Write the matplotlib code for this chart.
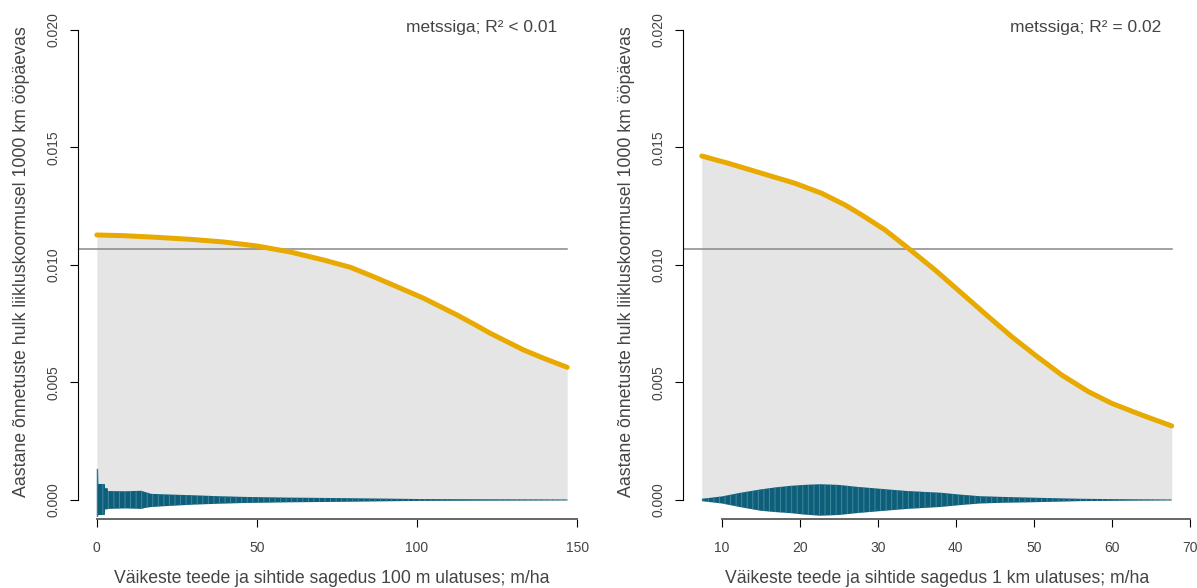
import numpy as np
import matplotlib.pyplot as plt

plt.rcParams['font.family'] = ['Liberation Sans', 'DejaVu Sans']
plt.rcParams['hatch.linewidth'] = 0.7

# left panel: 100 m radius
x1 = [0, 8.3, 18.75, 29.2, 39.6, 50, 60.4, 70.8, 79.2, 86.4, 93.7, 102.1, 107.3,
      112.5, 117.7, 122.9, 128.1, 133.3, 139.6, 146.9]
y1 = [0.011277, 0.011248, 0.011177, 0.011092, 0.010979, 0.010809, 0.010553, 0.010213,
      0.009901, 0.009504, 0.009078, 0.008582, 0.008227, 0.007872, 0.007489, 0.007092,
      0.006738, 0.006383, 0.006028, 0.005645]
b1_x = [0, 0.4, 0.5, 2.5, 2.6, 3.4, 3.5, 9, 14, 15, 17, 23, 30, 38, 46, 60, 76, 88, 101, 120, 147]
b1_hi = [0.00132, 0.00132, 0.00068, 0.00068, 0.0005, 0.0005, 0.00038, 0.00037, 0.00039, 0.00034,
         0.00026, 0.00023, 0.0002, 0.00016, 0.00013, 0.0001, 0.00008, 0.00006, 0.00004, 0.00003, 0.00002]
b1_lo = [-0.00072, -0.00072, -0.00064, -0.00064, -0.0004, -0.0004, -0.00038, -0.00036, -0.00038, -0.00034,
         -0.0003, -0.00025, -0.0002, -0.00016, -0.00013, -0.0001, -0.00008, -0.00006, -0.00004,
         -0.00003, -0.00002]

# right panel: 1 km radius
x2 = [7.43, 10.85, 15.13, 19.4, 22.82, 25.81, 27.95, 30.94, 33.93, 37.35, 40.77, 44.19,
      47.18, 50.17, 53.59, 57.01, 60.0, 63.85, 67.7]
y2 = [0.014638, 0.014326, 0.013901, 0.013475, 0.013050, 0.012553, 0.012128, 0.011489,
      0.010709, 0.009787, 0.008794, 0.007801, 0.006950, 0.006170, 0.005319, 0.004610,
      0.004113, 0.003617, 0.003149]
b2_x = [7.44, 10, 12.3, 15, 17, 18.8, 20.5, 22.6, 25, 27.3, 30.5, 33.8, 38, 40.5, 43.1, 46,
        49.5, 56, 62.4, 67.7]
b2_hi = [0.00005, 0.00015, 0.0003, 0.00045, 0.00054, 0.0006, 0.00064, 0.00067, 0.00064, 0.00056,
         0.00047, 0.00038, 0.00031, 0.00023, 0.00016, 0.00013, 0.0001, 0.00005, 0.00003, 0.00002]
b2_lo = [-0.00005, -0.00015, -0.0003, -0.00046, -0.00052, -0.00056, -0.00062, -0.00067, -0.00064,
         -0.00056, -0.00047, -0.00038, -0.0003, -0.00022, -0.00015, -0.00012, -0.0001, -0.00005,
         -0.00003, -0.00002]

mean_y = 0.0107
yticks = [0.000, 0.005, 0.010, 0.015, 0.020]
ylab = "Aastane õnnetuste hulk liikluskoormusel 1000 km ööpäevas"

panels = [
    dict(x=x1, y=y1, bx=b1_x, hi=b1_hi, lo=b1_lo, xticks=[0, 50, 100, 150],
         xlab="Väikeste teede ja sihtide sagedus 100 m ulatuses; m/ha",
         note="metssiga; R² < 0.01", pos=[78/1197, 1-519/588, 508/1197, 489/588]),
    dict(x=x2, y=y2, bx=b2_x, hi=b2_hi, lo=b2_lo, xticks=[10, 20, 30, 40, 50, 60, 70],
         xlab="Väikeste teede ja sihtide sagedus 1 km ulatuses; m/ha",
         note="metssiga; R² = 0.02", pos=[683/1197, 1-519/588, 507.5/1197, 489/588]),
]

orange = "#E8A900"
teal = "#0F5E79"
txt = "#444444"

fig = plt.figure(figsize=(11.97, 5.88), dpi=100)
for p in panels:
    ax = fig.add_axes(p['pos'])
    xmin, xmax = min(p['x']), max(p['x'])
    pad = 0.04 * (xmax - xmin)
    ax.set_xlim(xmin - pad, xmax + pad)
    ax.set_ylim(-0.00081, 0.0200)
    ax.fill_between(p['x'], 0, p['y'], color="#E5E5E5", lw=0)
    ax.fill_between(p['bx'], p['lo'], p['hi'], facecolor=teal, edgecolor="#3F88A0",
                    hatch='|||', lw=0)
    ax.plot([xmin - pad, xmax], [mean_y, mean_y], color="#888888", lw=1.1)
    ax.plot(p['x'], p['y'], color=orange, lw=3.6, solid_capstyle='round')
    for s in ax.spines.values():
        s.set_visible(False)
    ax.set_xticks(p['xticks'])
    ax.set_yticks(yticks)
    ax.set_yticklabels([f"{v:.3f}" for v in yticks], rotation=90, va='center')
    ax.tick_params(axis='both', length=5.8, width=0.8, colors='black', labelcolor=txt, labelsize=10)
    ax.tick_params(axis='y', pad=6.5)
    ax.tick_params(axis='x', pad=10)
    # R-style axis lines from first to last tick
    ax.plot([xmin - pad] * 2, [yticks[0], yticks[-1]], color='black', lw=0.8, clip_on=False)
    ax.plot([p['xticks'][0], p['xticks'][-1]], [-0.00081] * 2, color='#666666', lw=1.4, clip_on=False)
    ax.set_xlabel(p['xlab'], fontsize=12.7, color=txt, va='center')
    ax.xaxis.set_label_coords(0.5, -0.1207)
    ax.set_ylabel(ylab, fontsize=12.8, color=txt, va='center')
    ax.yaxis.set_label_coords(-0.112, 0.527)
    ax.text(xmax - 0.022 * (xmax - xmin), 0.0201, p['note'], ha='right', va='center',
            fontsize=12.5, color=txt)

fig.savefig("out.png", dpi=100)
